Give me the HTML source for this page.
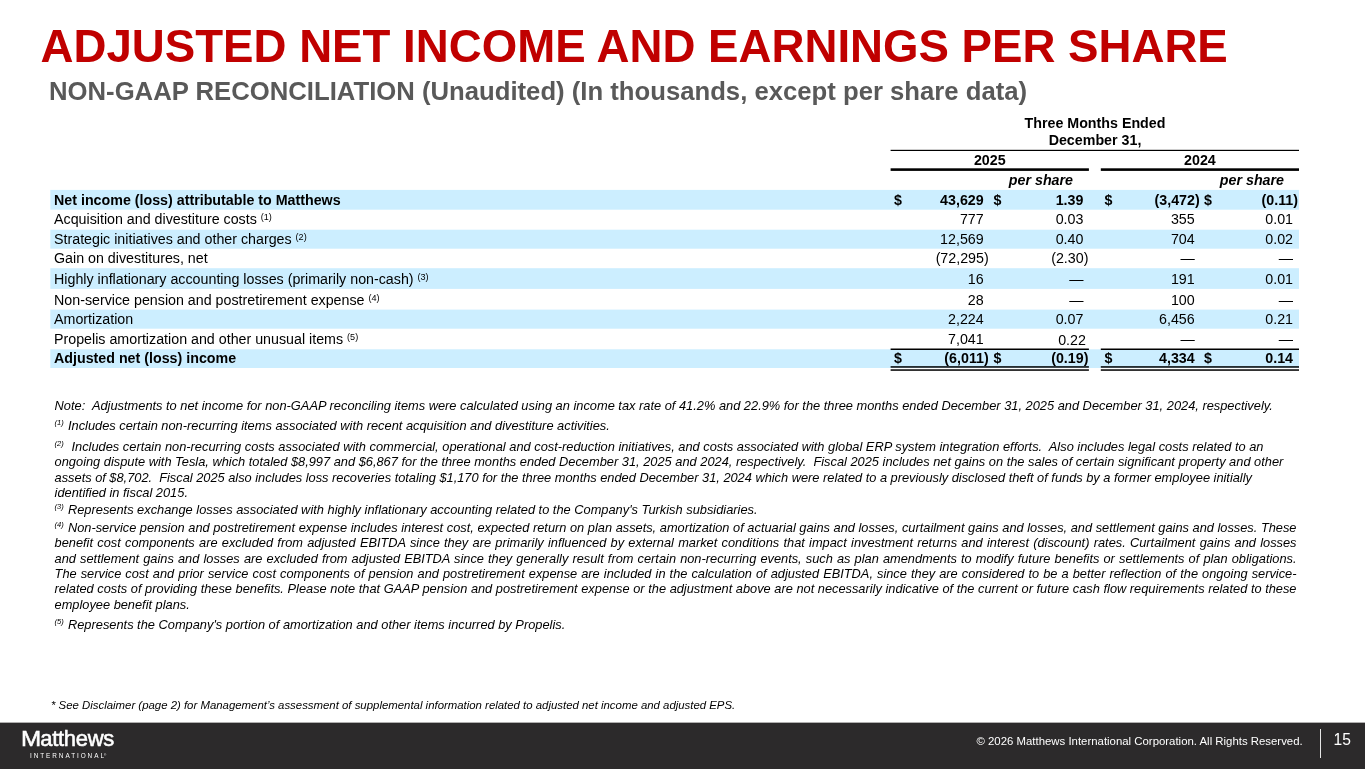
<!DOCTYPE html>
<html lang="en">
<head>
<meta charset="utf-8">
<title>Adjusted Net Income and Earnings Per Share</title>
<style>
html,body{margin:0;padding:0;background:#fff;}
body{width:1365px;height:769px;position:relative;overflow:hidden;font-family:"Liberation Sans",sans-serif;color:#000;}
.abs{position:absolute;white-space:nowrap;}
h1{position:absolute;margin:0;left:40.6px;top:21px;font-size:45.64px;line-height:52px;font-weight:bold;color:#c00000;white-space:nowrap;letter-spacing:0;}
h2{position:absolute;margin:0;left:49px;top:76px;font-size:25.7px;line-height:30px;font-weight:bold;color:#595959;white-space:nowrap;}
.row{position:absolute;left:0;width:1365px;height:20px;font-size:14.25px;line-height:20px;}
.row span{position:absolute;white-space:nowrap;top:0;}
.row .l{left:54px;}
.row .d1{left:894px;}
.row .n1{right:381.3px;}
.row .d2{left:993.6px;}
.row .n2{right:281.6px;}
.row .d3{left:1104.4px;}
.row .n3{right:170.3px;}
.row .d4{left:1204px;}
.row .n4{right:72px;}
.row.b{font-weight:bold;}
.row .p{margin-right:-5px;}
sup{font-size:9.1px;line-height:0;vertical-align:baseline;position:relative;top:-4.3px;}
.hd{position:absolute;font-size:14.25px;line-height:17px;font-weight:bold;text-align:center;white-space:nowrap;}
.fn{position:absolute;left:54.6px;width:1242px;font-size:12.83px;line-height:15.35px;font-style:italic;margin:0;}
.fn.j{font-size:12.8px;width:1241.9px;}
.fn.j>div{text-align:justify;text-align-last:justify;height:15.35px;}
.fn.j>div.last{text-align:left;text-align-last:left;}
.fn sup{font-size:7.6px;top:-5.2px;margin-right:0.5px;}
.footer{position:absolute;left:0;top:723px;width:1365px;height:46px;background:#2c2a2b;}
.footer:before{content:"";position:absolute;left:0;top:-1px;width:1365px;height:1px;background:#b0afaf;}
</style>
</head>
<body>
<h1>ADJUSTED NET INCOME AND EARNINGS PER SHARE</h1>
<h2>NON-GAAP RECONCILIATION (Unaudited) (In thousands, except per share data)</h2>

<div class="hd" style="left:891px;width:408px;top:115px;">Three Months Ended<br>December 31,</div>
<div class="hd" style="left:890.6px;width:198.3px;top:152px;">2025</div>
<div class="hd" style="left:1100.8px;width:198.2px;top:152px;">2024</div>
<div class="hd" style="right:292px;top:172px;font-style:italic;">per share</div>
<div class="hd" style="right:81px;top:172px;font-style:italic;">per share</div>


<svg class="abs" style="left:0;top:0;" width="1365" height="400" viewBox="0 0 1365 400">
<g fill="#cceeff">
<rect x="50.3" y="189.9" width="1248.7" height="19.8"/>
<rect x="50.3" y="229.7" width="1248.7" height="19"/>
<rect x="50.3" y="268.2" width="1248.7" height="20.7"/>
<rect x="50.3" y="309.6" width="1248.7" height="19.1"/>
<rect x="50.3" y="349.3" width="1248.7" height="18.7"/>
</g>
<g fill="#000">
<rect x="890.6" y="149.8" width="408.4" height="1.2"/>
<rect x="890.6" y="168.3" width="198.3" height="2.6"/>
<rect x="1100.8" y="168.3" width="198.2" height="2.6"/>
<rect x="890.6" y="348.5" width="198.3" height="1.5"/>
<rect x="1100.8" y="348.5" width="198.2" height="1.5"/>
<rect x="890.6" y="366.2" width="198.3" height="1.5"/>
<rect x="1100.8" y="366.2" width="198.2" height="1.5"/>
<rect x="890.6" y="369.3" width="198.3" height="1.5"/>
<rect x="1100.8" y="369.3" width="198.2" height="1.5"/>
</g>
</svg>
<div class="row b" style="top:190px;"><span class="l">Net income (loss) attributable to Matthews</span><span class="d1">$</span><span class="n1">43,629</span><span class="d2">$</span><span class="n2">1.39</span><span class="d3">$</span><span class="n3 p">(3,472)</span><span class="d4">$</span><span class="n4 p">(0.11)</span></div>
<div class="row" style="top:209px;"><span class="l">Acquisition and divestiture costs <sup>(1)</sup></span><span class="n1">777</span><span class="n2">0.03</span><span class="n3">355</span><span class="n4">0.01</span></div>
<div class="row" style="top:229px;"><span class="l">Strategic initiatives and other charges <sup>(2)</sup></span><span class="n1">12,569</span><span class="n2">0.40</span><span class="n3">704</span><span class="n4">0.02</span></div>
<div class="row" style="top:248px;"><span class="l">Gain on divestitures, net</span><span class="n1 p">(72,295)</span><span class="n2 p">(2.30)</span><span class="n3">—</span><span class="n4">—</span></div>
<div class="row" style="top:269px;"><span class="l">Highly inflationary accounting losses (primarily non-cash) <sup>(3)</sup></span><span class="n1">16</span><span class="n2">—</span><span class="n3">191</span><span class="n4">0.01</span></div>
<div class="row" style="top:290px;"><span class="l">Non-service pension and postretirement expense <sup>(4)</sup></span><span class="n1">28</span><span class="n2">—</span><span class="n3">100</span><span class="n4">—</span></div>
<div class="row" style="top:309px;"><span class="l">Amortization</span><span class="n1">2,224</span><span class="n2">0.07</span><span class="n3">6,456</span><span class="n4">0.21</span></div>
<div class="row" style="top:329px;"><span class="l">Propelis amortization and other unusual items <sup>(5)</sup></span><span class="n1">7,041</span><span class="n2" style="top:1px;margin-right:-2.5px">0.22</span><span class="n3">—</span><span class="n4">—</span></div>
<div class="row b" style="top:348px;"><span class="l">Adjusted net (loss) income</span><span class="d1">$</span><span class="n1 p">(6,011)</span><span class="d2">$</span><span class="n2 p">(0.19)</span><span class="d3">$</span><span class="n3">4,334</span><span class="d4">$</span><span class="n4">0.14</span></div>


<p class="fn" style="top:398px;white-space:nowrap;">Note:&nbsp; Adjustments to net income for non-GAAP reconciling items were calculated using an income tax rate of 41.2% and 22.9% for the three months ended December 31, 2025 and December 31, 2024, respectively.</p>
<p class="fn" style="top:418px;"><sup>(1)</sup> Includes certain non-recurring items associated with recent acquisition and divestiture activities.</p>
<div class="fn" style="top:439px;white-space:nowrap;">
<div><sup>(2)</sup>&nbsp; Includes certain non-recurring costs associated with commercial, operational and cost-reduction initiatives, and costs associated with global ERP system integration efforts.&nbsp; Also includes legal costs related to an</div>
<div>ongoing dispute with Tesla, which totaled $8,997 and $6,867 for the three months ended December 31, 2025 and 2024, respectively.&nbsp; Fiscal 2025 includes net gains on the sales of certain significant property and other</div>
<div style="letter-spacing:-0.013px;">assets of $8,702.&nbsp; Fiscal 2025 also includes loss recoveries totaling $1,170 for the three months ended December 31, 2024 which were related to a previously disclosed theft of funds by a former employee initially</div>
<div>identified in fiscal 2015.</div>
</div>
<p class="fn" style="top:502px;"><sup>(3)</sup> Represents exchange losses associated with highly inflationary accounting related to the Company's Turkish subsidiaries.</p>
<div class="fn j" style="top:520px;">
<div><sup>(4)</sup> Non-service pension and postretirement expense includes interest cost, expected return on plan assets, amortization of actuarial gains and losses, curtailment gains and losses, and settlement gains and losses. These</div>
<div>benefit cost components are excluded from adjusted EBITDA since they are primarily influenced by external market conditions that impact investment returns and interest (discount) rates. Curtailment gains and losses</div>
<div>and settlement gains and losses are excluded from adjusted EBITDA since they generally result from certain non-recurring events, such as plan amendments to modify future benefits or settlements of plan obligations.</div>
<div>The service cost and prior service cost components of pension and postretirement expense are included in the calculation of adjusted EBITDA, since they are considered to be a better reflection of the ongoing service-</div>
<div>related costs of providing these benefits. Please note that GAAP pension and postretirement expense or the adjustment above are not necessarily indicative of the current or future cash flow requirements related to these</div>
<div class="last">employee benefit plans.</div>
</div>
<p class="fn" style="top:617px;"><sup>(5)</sup> Represents the Company's portion of amortization and other items incurred by Propelis.</p>

<p class="abs" style="left:51px;top:698px;margin:0;font-size:11.4px;line-height:14px;font-style:italic;">* See Disclaimer (page 2) for Management’s assessment of supplemental information related to adjusted net income and adjusted EPS.</p>

<div class="footer">
  <div class="abs" style="left:20.6px;top:3px;font-size:22px;line-height:26px;color:#fff;letter-spacing:-0.3px;-webkit-text-stroke:0.55px #fff;"><span style="display:inline-block;transform:scaleX(1.1);transform-origin:0 50%;margin-right:1.7px;">M</span>atthews</div>
  <div class="abs" style="left:30px;top:29px;font-size:6.4px;line-height:8px;color:#fff;letter-spacing:1.94px;">INTERNATIONAL<span style="font-size:3px;position:relative;top:-2px;letter-spacing:0;margin-left:-2px">®</span></div>
  <div class="abs" style="right:62.3px;top:11px;font-size:11.4px;line-height:14px;color:#fff;">© 2026 Matthews International Corporation. All Rights Reserved.</div>
  <div class="abs" style="left:1320px;top:6px;width:1px;height:29px;background:#e6e6e6;"></div>
  <div class="abs" style="left:1333.5px;top:7px;font-size:15.6px;line-height:20px;color:#fff;">15</div>
</div>
</body>
</html>
